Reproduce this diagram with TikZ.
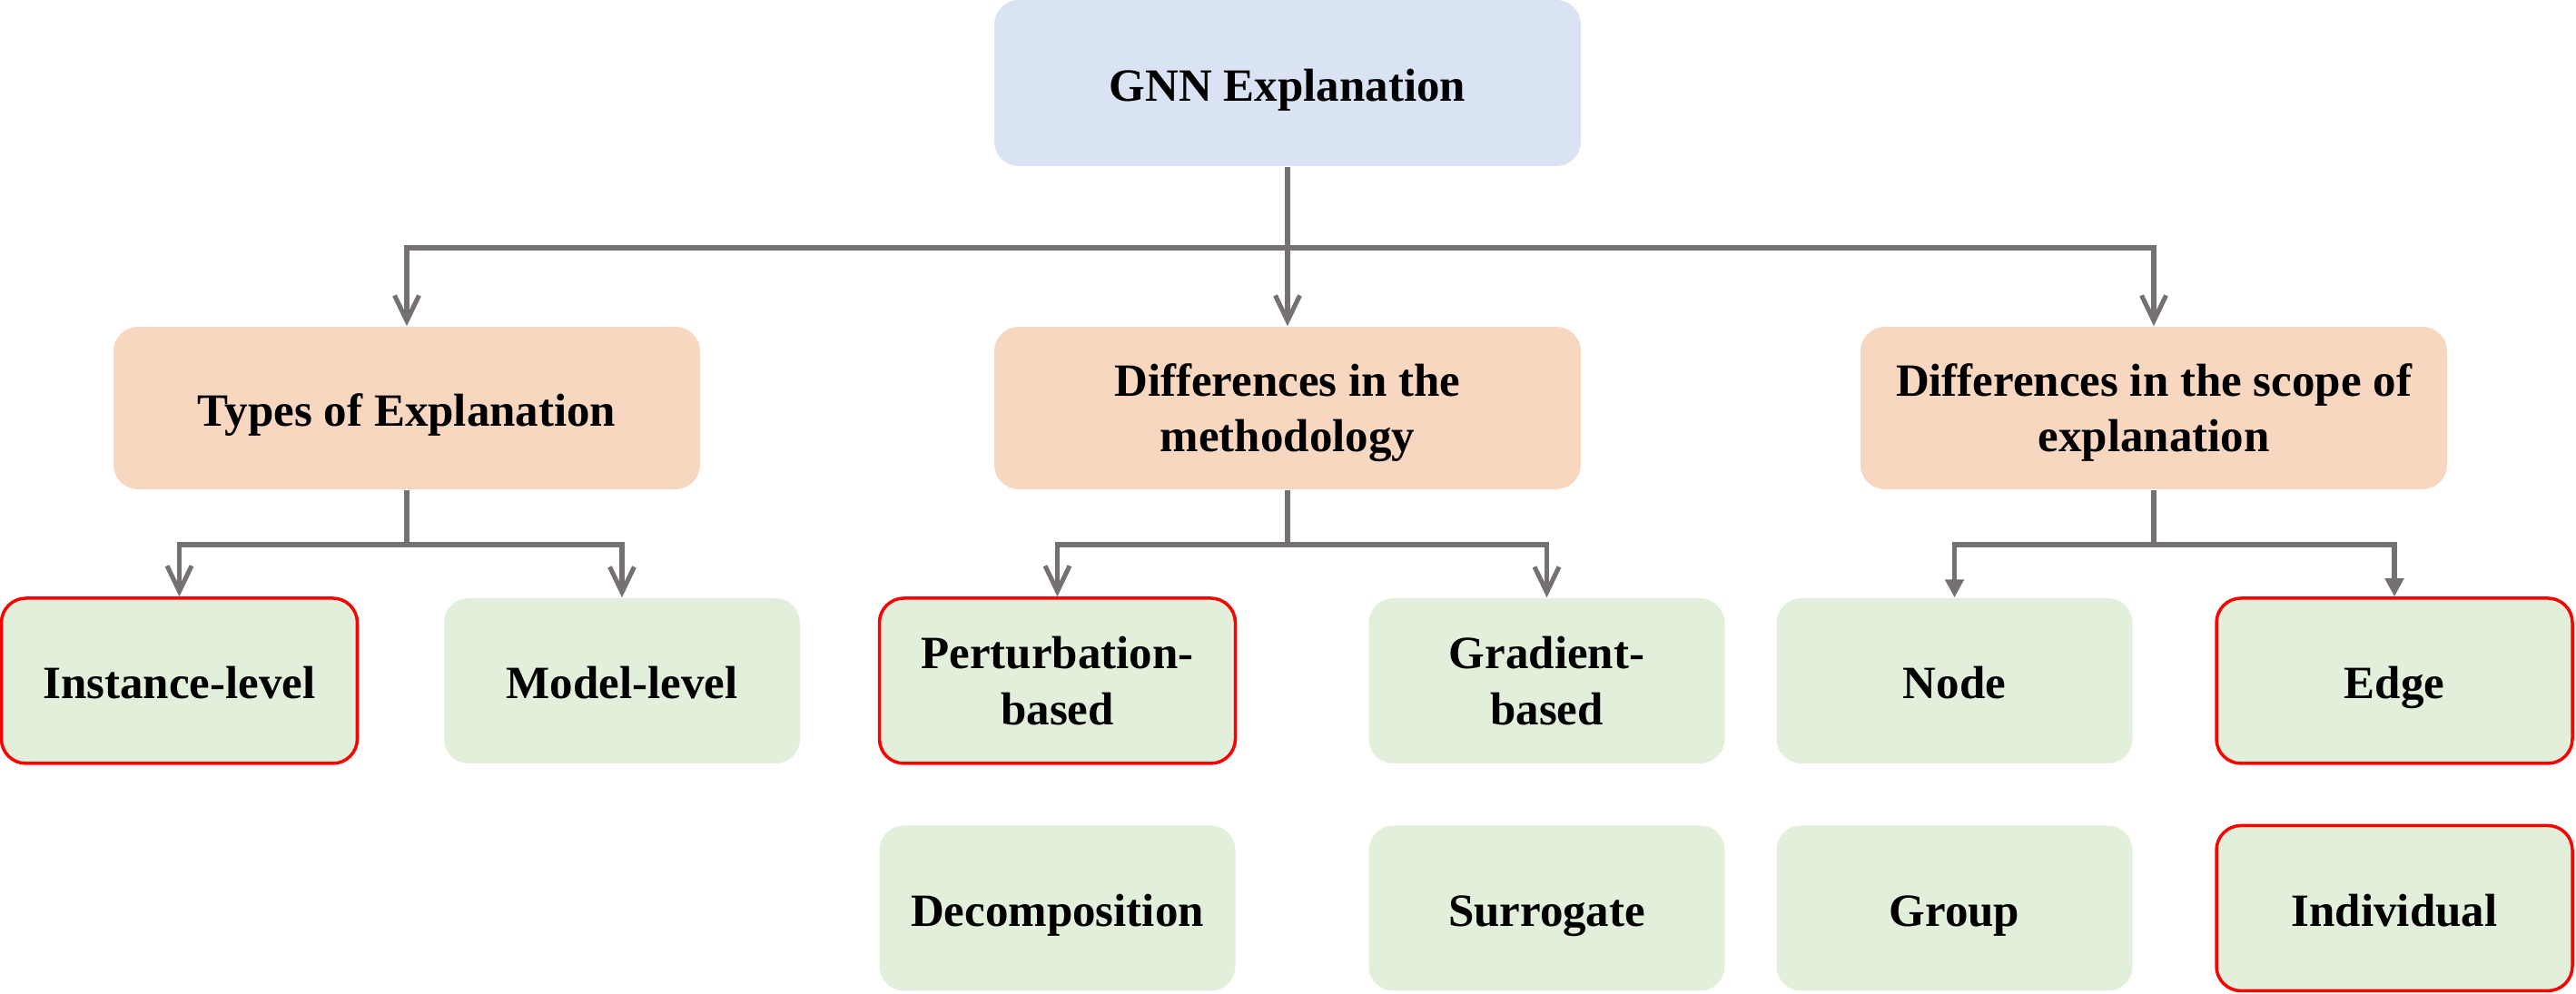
\documentclass[tikz,border=0pt]{standalone}
\usepackage{fontspec}
\setmainfont{Liberation Serif}
\usetikzlibrary{arrows.meta}
\definecolor{lblue}{HTML}{DAE3F3}
\definecolor{lorange}{HTML}{F8D7C1}
\definecolor{lgreen}{HTML}{E2EFDA}
\definecolor{lgray}{HTML}{767171}
\definecolor{hred}{HTML}{FF0000}
\newcommand{\topstrut}{\rule{0pt}{0.5cm}}
\newcommand{\botstrut}{\rule[-0.15cm]{0pt}{0pt}}
\tikzset{
  box/.style={rounded corners=0.27cm, inner sep=0pt, align=center,
    font=\fontsize{14.5}{17.6}\selectfont\bfseries},
  one/.style={text height=0.55cm, text depth=0.15cm},
  rootbox/.style={box, fill=lblue, minimum width=6.46cm, minimum height=1.83cm},
  midbox/.style={box, fill=lorange, minimum width=6.46cm, minimum height=1.79cm},
  leafbox/.style={box, fill=lgreen, minimum width=3.92cm, minimum height=1.82cm},
  hl/.style={draw=hred, line width=1pt},
  conn/.style={draw=lgray, line width=1.45pt},
  barb/.style={conn, -{Straight Barb[length=0.28cm,width=0.27cm,line width=1.45pt]}},
  tri/.style={conn, -{Triangle[length=0.2cm,width=0.2cm]}}
}
\begin{document}
\begin{tikzpicture}
\useasboundingbox (0,0) rectangle (28.37,10.95);
% root
\node[rootbox, one] (root) at (14.18,10.035) {GNN Explanation};
% level 2
\node[midbox, one] (types) at (4.48,6.455) {Types of Explanation};
\node[midbox] (meth) at (14.18,6.455) {\topstrut Differences in the\\methodology\botstrut};
\node[midbox] (scope) at (23.72,6.455) {\topstrut Differences in the scope of\\explanation\botstrut};
% level 3
\node[leafbox, one, hl] (inst) at (1.975,3.45) {Instance-level};
\node[leafbox, one] (model) at (6.85,3.45) {Model-level};
\node[leafbox, hl] (pert) at (11.645,3.45) {\topstrut Perturbation-\\based\botstrut};
\node[leafbox] (grad) at (17.035,3.45) {\topstrut Gradient-\\based\botstrut};
\node[leafbox, one] (nodeb) at (21.525,3.45) {Node};
\node[leafbox, one, hl] (edge) at (26.37,3.45) {Edge};
% level 4
\node[leafbox, one] (decomp) at (11.645,0.945) {Decomposition};
\node[leafbox, one] (surr) at (17.035,0.945) {Surrogate};
\node[leafbox, one] (group) at (21.525,0.945) {Group};
\node[leafbox, one, hl] (indiv) at (26.37,0.945) {Individual};
% bus coordinates
\coordinate (b1) at (14.18,8.22);
\coordinate (b2) at (4.48,4.95);
\coordinate (b3) at (14.18,4.95);
\coordinate (b4) at (23.72,4.95);
% connectors from root
\draw[conn] (root.south) -- (b1);
\draw[barb] (b1) -| (types.north);
\draw[barb] (b1) -- (meth.north);
\draw[barb] (b1) -| (scope.north);
% types
\draw[conn] (types.south) -- (b2);
\draw[barb] (b2) -| (inst.north);
\draw[barb] (b2) -| (model.north);
% methodology
\draw[conn] (meth.south) -- (b3);
\draw[barb] (b3) -| (pert.north);
\draw[barb] (b3) -| (grad.north);
% scope
\draw[conn] (scope.south) -- (b4);
\draw[tri] (b4) -| (nodeb.north);
\draw[tri] (b4) -| (edge.north);
\end{tikzpicture}
\end{document}
